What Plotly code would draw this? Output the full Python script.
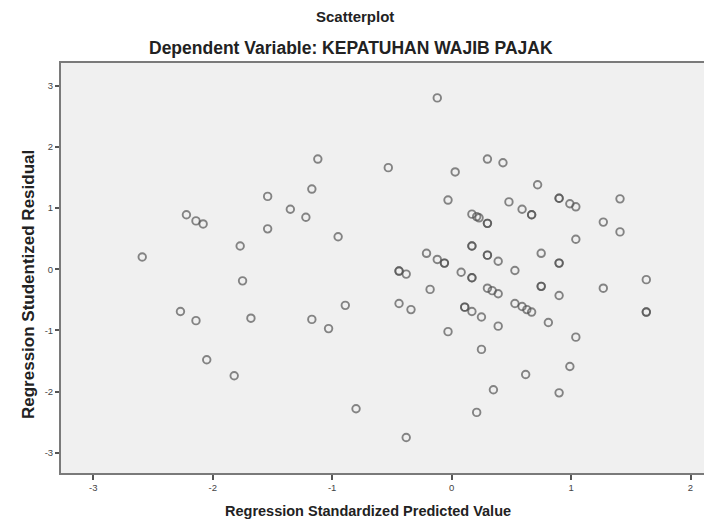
import plotly.graph_objects as go

# Regression Standardized Predicted Value
pred = [-2.59, -2.22, -2.14, -2.08, -2.27, -2.14, -2.05, -1.82, -1.77, -1.75,
        -1.68, -1.54, -1.54, -1.35, -1.22, -1.17, -1.12, -1.17, -1.03, -0.95,
        -0.89, -0.80, -0.53,
        -0.12, 0.30, 0.43, 0.03, 0.72, -0.03, 0.90, 0.90, 0.99, 1.04,
        1.41, 0.48, 0.59, 0.67, 0.67, 0.17, 0.21, 0.23, 0.30, 0.30,
        1.27, 1.41, 1.04, 0.17, 0.17, -0.21, -0.12, -0.06, -0.06, 0.30,
        0.30, 0.39, 0.75, 0.90, 0.90, 0.08, 0.17, 0.17, 0.53, -0.44,
        -0.44, -0.38, 1.63, -0.18, 0.30, 0.34, 0.39, 0.75, 0.75, 0.90,
        1.27, -0.44, -0.34, 0.11, 0.11, 0.17, 0.25, 0.53, 0.59, 0.63,
        0.67, 0.81, 1.63, 1.63, 0.39, -0.03, 1.04, 0.25, 0.62, 0.99,
        0.35, 0.90, 0.21, -0.38]

# Regression Studentized Residual
resid = [0.20, 0.89, 0.79, 0.74, -0.69, -0.84, -1.48, -1.74, 0.38, -0.19,
         -0.80, 1.19, 0.66, 0.98, 0.85, 1.31, 1.80, -0.82, -0.97, 0.53,
         -0.59, -2.28, 1.66,
         2.80, 1.80, 1.74, 1.59, 1.38, 1.13, 1.16, 1.16, 1.07, 1.02,
         1.15, 1.10, 0.98, 0.89, 0.89, 0.90, 0.86, 0.84, 0.75, 0.75,
         0.77, 0.61, 0.49, 0.38, 0.38, 0.26, 0.16, 0.10, 0.10, 0.23,
         0.23, 0.13, 0.26, 0.10, 0.10, -0.05, -0.14, -0.14, -0.02, -0.03,
         -0.03, -0.08, -0.17, -0.33, -0.31, -0.35, -0.40, -0.28, -0.28, -0.43,
         -0.31, -0.56, -0.66, -0.62, -0.62, -0.69, -0.78, -0.56, -0.61, -0.66,
         -0.70, -0.87, -0.70, -0.70, -0.93, -1.02, -1.11, -1.31, -1.72, -1.59,
         -1.97, -2.02, -2.34, -2.75]

x_ticks = [-3, -2, -1, 0, 1, 2]
y_ticks = [-3, -2, -1, 0, 1, 2, 3]

FONT = "Liberation Sans"

# figure size (page body has an 8px margin)
W, H = 704, 515
ML, MT, MR, MB = 53, 55, 0, 50
PW, PH = W - ML - MR, H - MT - MB


def px(xpix):
    return (xpix - ML) / PW


def py(ypix):
    return 1 - (ypix - MT) / PH


fig = go.Figure()
fig.add_trace(go.Scatter(
    x=pred, y=resid, mode="markers",
    marker=dict(symbol="circle-open", size=7.5,
                color="rgba(80,80,80,0.68)",
                line=dict(width=1.9, color="rgba(80,80,80,0.68)")),
    hoverinfo="x+y", showlegend=False,
))

fig.update_layout(
    width=W, height=H,
    margin=dict(l=ML, r=MR, t=MT, b=MB, autoexpand=False),
    paper_bgcolor="white",
    plot_bgcolor="#f0f0f0",
    font=dict(family=FONT, color="#333"),
    xaxis=dict(
        range=[-3.27, 2.18], tickvals=x_ticks, ticktext=[str(v) for v in x_ticks],
        showgrid=False, zeroline=False,
        showline=True, linecolor="#7a7a7a", linewidth=2, mirror=True,
        ticks="outside", ticklen=5, tickwidth=1.5, tickcolor="#555",
        tickfont=dict(size=9.5, color="#444"),
    ),
    yaxis=dict(
        range=[-3.33, 3.37], tickvals=y_ticks, ticktext=[str(v) for v in y_ticks],
        showgrid=False, zeroline=False,
        showline=True, linecolor="#7a7a7a", linewidth=2, mirror=False,
        ticks="outside", ticklen=4, tickwidth=1.5, tickcolor="#555",
        tickfont=dict(size=9.5, color="#444"),
    ),
    annotations=[
        dict(text="<b>Scatterplot</b>", x=px(347), y=py(9),
             xref="paper", yref="paper", showarrow=False, yanchor="middle",
             font=dict(size=15, color="#222", family=FONT)),
        dict(text="<b>Dependent Variable: KEPATUHAN WAJIB PAJAK</b>",
             x=px(343), y=py(40), xref="paper", yref="paper", showarrow=False,
             yanchor="middle", font=dict(size=17.5, color="#222", family=FONT)),
        dict(text="<b>Regression Standardized Predicted Value</b>",
             x=px(360), y=py(503), xref="paper", yref="paper", showarrow=False,
             yanchor="middle", font=dict(size=14.5, color="#222", family=FONT)),
        dict(text="<b>Regression Studentized Residual</b>",
             x=px(20), y=py(277), xref="paper", yref="paper", showarrow=False,
             textangle=-90, xanchor="center", yanchor="middle",
             font=dict(size=17, color="#222", family=FONT)),
    ],
)

fig.write_html("out.html")
